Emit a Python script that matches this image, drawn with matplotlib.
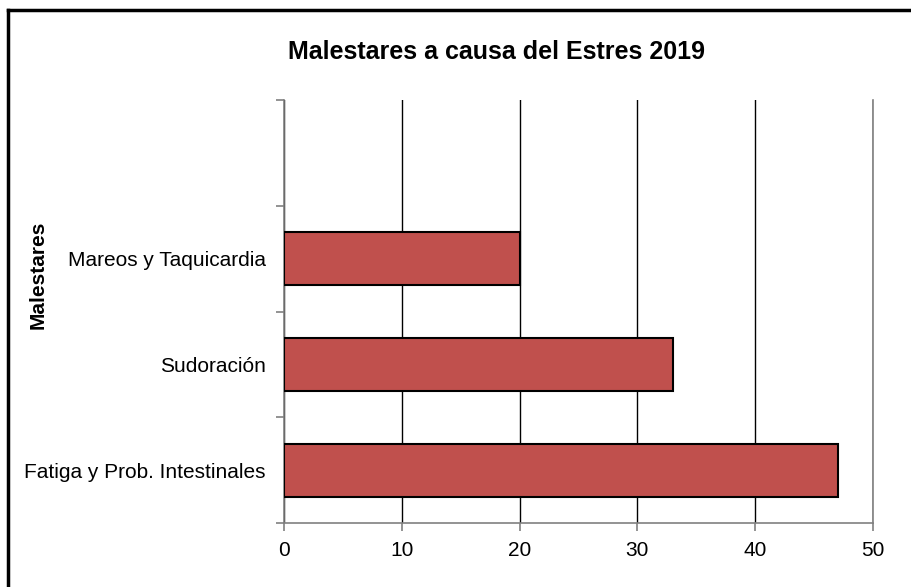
import matplotlib.pyplot as plt
from matplotlib.lines import Line2D

plt.rcParams['font.family'] = ['Liberation Sans', 'DejaVu Sans']

categorias = ["Fatiga y Prob. Intestinales", "Sudoración", "Mareos y Taquicardia"]
valores = [47, 33, 20]
n_slots = 4  # el ultimo espacio queda vacio

fig = plt.figure(figsize=(9.11, 5.87), dpi=100)
ax = fig.add_axes([284 / 911, 1 - 523 / 587, (873 - 284) / 911, (523 - 100) / 587])

ax.barh(range(len(valores)), valores, height=0.5, color="#C0504D",
        edgecolor="black", linewidth=1.5, zorder=3)

ax.set_xlim(0, 50)
ax.set_ylim(-0.5, n_slots - 0.5)
ax.set_xticks(range(0, 51, 10))
ax.set_yticks(range(len(categorias)))
ax.set_yticklabels(categorias)
ax.set_yticks([i - 0.5 for i in range(n_slots + 1)], minor=True)

ax.grid(axis="x", color="black", linewidth=1)
ax.set_axisbelow(True)

ax.spines["top"].set_visible(False)
for s in ["left", "bottom", "right"]:
    ax.spines[s].set_color("#808080")
    ax.spines[s].set_linewidth(1.2)

ax.tick_params(axis="y", which="major", length=0, pad=13, labelsize=15)
ax.tick_params(axis="y", which="minor", length=6, color="#808080", width=1.2)
ax.tick_params(axis="x", length=6, color="#808080", width=1.2, labelsize=15, pad=7)

ax.set_ylabel("Malestares", fontsize=15, fontweight="bold")
ax.yaxis.set_label_coords(-0.402, 0.586)

fig.text(497 / 911, 1 - 52 / 587, "Malestares a causa del Estres 2019",
         ha="center", va="center", fontsize=18, fontweight="bold")

# marco del grafico (solo izquierda y arriba visibles en la captura)
fig.add_artist(Line2D([8 / 911, 8 / 911], [0, 1 - 10 / 587], color="black",
                      linewidth=2.5, transform=fig.transFigure))
fig.add_artist(Line2D([8 / 911, 1], [1 - 10 / 587, 1 - 10 / 587], color="black",
                      linewidth=2.5, transform=fig.transFigure))

fig.savefig("out.png", dpi=100)
